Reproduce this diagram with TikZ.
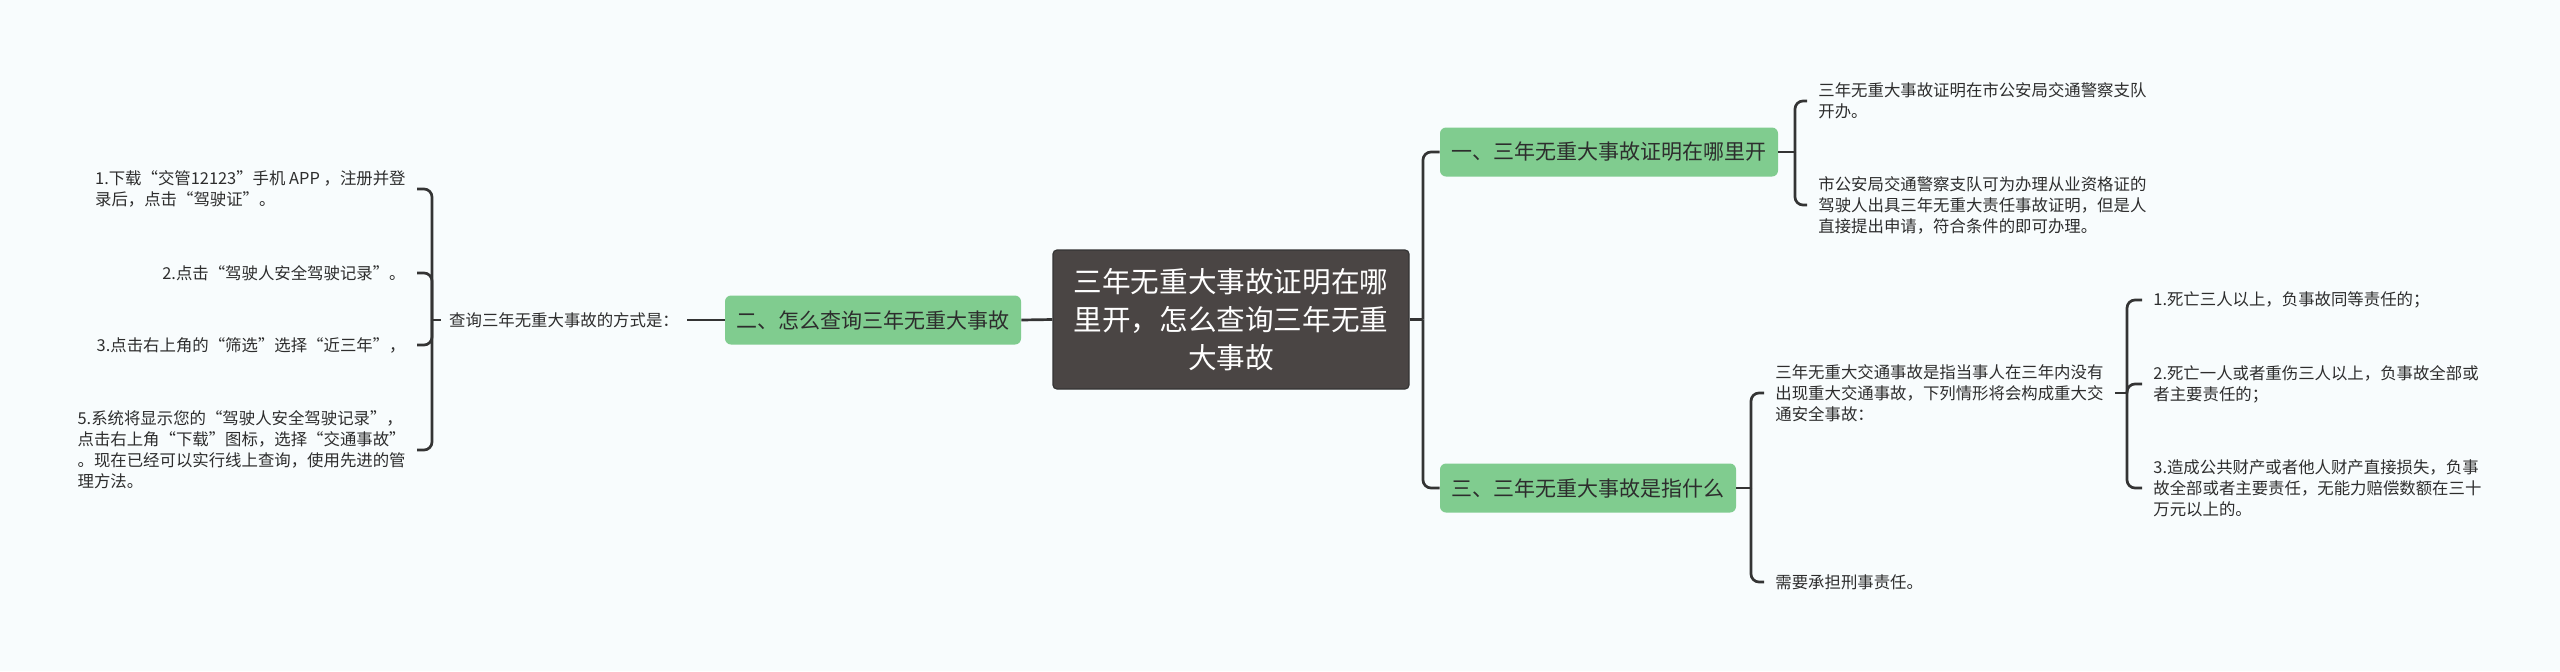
\documentclass[tikz,border=0pt]{standalone}
\usepackage{fontspec}
\setmainfont{Noto Sans CJK SC}
\usetikzlibrary{positioning}

\definecolor{bgcol}{RGB}{248,252,253}
\definecolor{rootfill}{RGB}{74,69,68}
\definecolor{topicfill}{RGB}{128,204,143}
\definecolor{linecol}{RGB}{52,52,52}
\definecolor{textcol}{RGB}{45,45,45}

\tikzset{
  rootbox/.style={fill=rootfill, draw=linecol, line width=0.6pt, rounded corners=2pt,
    text=white, font=\fontsize{14.3}{19}\selectfont, align=center,
    minimum width=178pt, minimum height=69.5pt},
  topicbox/.style={fill=topicfill, rounded corners=3pt, text=textcol,
    font=\fontsize{10.5}{13}\selectfont, inner xsep=5.75pt, minimum height=24.5pt},
  leaf/.style={text=textcol, font=\fontsize{8.2}{10.5}\selectfont, align=left,
    inner xsep=5.5pt, inner ysep=0pt},
  link/.style={draw=linecol, line width=1.35pt, rounded corners=4pt},
}

\begin{document}
\begin{tikzpicture}[x=0.5pt, y=-0.5pt]

  % --- sfondo ---
  \fill[bgcol] (0,0) rectangle (2560,671);
  \useasboundingbox (0,0) rectangle (2560,671);

  % --- nodo centrale ---
  \node[rootbox] (root) at (1231,319.5)
    {三年无重大事故证明在哪\\里开，怎么查询三年无重\\大事故};

  % --- rami principali ---
  \node[topicbox] (n2) at (873,320) {二、怎么查询三年无重大事故};
  \node[topicbox] (n1) at (1609,152) {一、三年无重大事故证明在哪里开};
  \node[topicbox] (n3) at (1588,488) {三、三年无重大事故是指什么};

  % --- ramo sinistro ---
  \node[leaf, inner xsep=4pt] (q) at (564,320) {查询三年无重大事故的方式是：};
  \node[leaf, anchor=east] (q1) at (417,189)
    {1.下载“交管12123”手机 APP ，注册并登\\录后，点击“驾驶证”。};
  \node[leaf, anchor=east] (q2) at (417,273) {2.点击“驾驶人安全驾驶记录”。};
  \node[leaf, anchor=east] (q3) at (417,345) {3.点击右上角的“筛选”选择“近三年”，};
  \node[leaf, anchor=east] (q5) at (417,450)
    {5.系统将显示您的“驾驶人安全驾驶记录”，\\点击右上角“下载”图标，选择“交通事故”\\。现在已经可以实行线上查询，使用先进的管\\理方法。};

  % --- ramo uno ---
  \node[leaf, anchor=west] (a1) at (1807,101)
    {三年无重大事故证明在市公安局交通警察支队\\开办。};
  \node[leaf, anchor=west] (a2) at (1807,205)
    {市公安局交通警察支队可为办理从业资格证的\\驾驶人出具三年无重大责任事故证明，但是人\\直接提出申请，符合条件的即可办理。};

  % --- ramo tre ---
  \node[leaf, anchor=west] (b1) at (1764,393)
    {三年无重大交通事故是指当事人在三年内没有\\出现重大交通事故，下列情形将会构成重大交\\通安全事故：};
  \node[leaf, anchor=west] (b2) at (1764,582) {需要承担刑事责任。};
  \node[leaf, anchor=west] (c1) at (2142,300) {1.死亡三人以上，负事故同等责任的；};
  \node[leaf, anchor=west] (c2) at (2142,384)
    {2.死亡一人或者重伤三人以上，负事故全部或\\者主要责任的；};
  \node[leaf, anchor=west] (c3) at (2142,488)
    {3.造成公共财产或者他人财产直接损失，负事\\故全部或者主要责任，无能力赔偿数额在三十\\万元以上的。};

  % --- punti di giunzione ---
  \coordinate (jL) at (432,320);
  \coordinate (jR) at (1423,319.5);
  \coordinate (jA) at (1795,152);
  \coordinate (jB) at (1751,488);
  \coordinate (jC) at (2127,393);

  % --- collegamenti ---
  \draw[link] (root.west) -- (n2.east);
  \draw[link] (n2.west) -- (q.east);
  \draw[link] (q.west) -- (jL);
  \foreach \k in {q1,q2,q3,q5}{
    \draw[link] (jL) |- (\k.east);
  }
  \draw[link] (root.east) -- (jR);
  \draw[link] (jR) |- (n1.west);
  \draw[link] (jR) |- (n3.west);
  \draw[link] (n1.east) -- (jA);
  \foreach \k in {a1,a2}{
    \draw[link] (jA) |- (\k.west);
  }
  \draw[link] (n3.east) -- (jB);
  \foreach \k in {b1,b2}{
    \draw[link] (jB) |- (\k.west);
  }
  \draw[link] (b1.east) -- (jC);
  \foreach \k in {c1,c2,c3}{
    \draw[link] (jC) |- (\k.west);
  }

\end{tikzpicture}
\end{document}
